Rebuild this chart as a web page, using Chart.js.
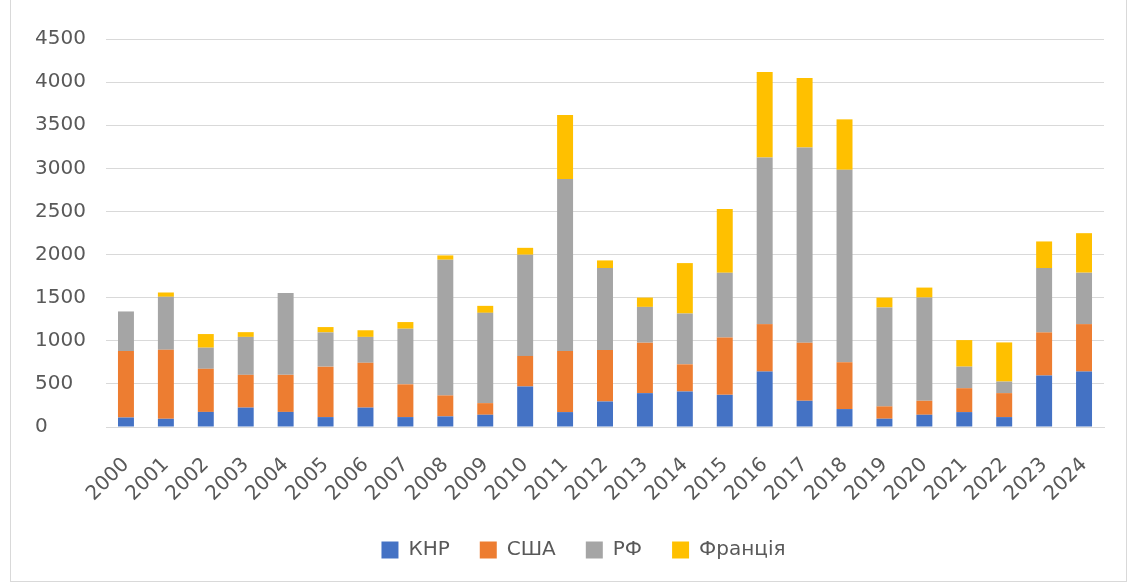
<!DOCTYPE html>
<html>
<head>
<meta charset="utf-8">
<script src="https://cdn.jsdelivr.net/npm/chart.js@4"></script>
<style>
  html, body { margin: 0; padding: 0; background: #fff; }
  #wrap { position: relative; width: 1129px; height: 583px; }
  #frame { position: absolute; left: 10px; top: 0; width: 1115px; height: 581px; border: 1px solid #d9d9d9; border-top: none; }
</style>
</head>
<body>
<div id="wrap">
  <div id="frame"></div>
  <canvas id="chart" width="1129" height="583"></canvas>
</div>
<script>
// years on the x axis
var years = ["2000","2001","2002","2003","2004","2005","2006","2007","2008","2009",
             "2010","2011","2012","2013","2014","2015","2016","2017","2018","2019",
             "2020","2021","2022","2023","2024"];

// values
var knr =     [110,  95, 175, 225, 175, 115, 225, 115, 123, 142, 470, 173, 296, 393, 412, 373, 643, 304, 208,  96, 142, 173, 115, 597, 643];
var ssha =    [770, 800, 500, 380, 430, 585, 520, 380, 243, 135, 354, 708, 597, 585, 315, 666, 550, 674, 543, 143, 162, 277, 278, 500, 550];
var rf =      [460, 615, 245, 440, 950, 397, 300, 645,1574,1047,1174,1994, 951, 415, 589, 751,1932,2263,2232,1147,1197, 250, 134, 747, 597];
var francia = [  0,  50, 158,  55,   0,  62,  77,  77,  50,  81,  80, 743,  88, 108, 585, 739, 993, 808, 585, 115, 116, 308, 454, 308, 458];

var yTicks = [0, 500, 1000, 1500, 2000, 2500, 3000, 3500, 4000, 4500];

Chart.defaults.font.family = "'DejaVu Sans', sans-serif";
Chart.defaults.font.size = 20;
Chart.defaults.color = "#595959";

// legend sits a bit right of centre in the original
var legendShift = {
    id: 'legendShift',
    afterLayout: function (chart) {
        chart.legend.left += 14;
        chart.legend.right += 14;
    }
};

var ctx = document.getElementById("chart");

var myChart = new Chart(ctx, {
    type: 'bar',
    data: {
        labels: years,
        datasets: [
            { label: "КНР",     data: knr,     backgroundColor: "#4472C4" },
            { label: "США",     data: ssha,    backgroundColor: "#ED7D31" },
            { label: "РФ",      data: rf,      backgroundColor: "#A5A5A5" },
            { label: "Франція", data: francia, backgroundColor: "#FFC000" }
        ]
    },
    plugins: [legendShift],
    options: {
        responsive: false,
        animation: false,
        layout: { padding: { left: 35, right: 25, top: 39, bottom: 13 } },
        datasets: { bar: { barPercentage: 0.4, categoryPercentage: 1.0 } },
        plugins: {
            tooltip: { enabled: false },
            legend: {
                position: 'bottom',
                maxHeight: 60,
                labels: { boxWidth: 17, boxHeight: 17, padding: 30, font: { size: 20 } }
            }
        },
        scales: {
            x: {
                stacked: true,
                grid: { display: false },
                border: { display: true, color: "#d9d9d9" },
                ticks: { minRotation: 45, maxRotation: 45, padding: 18 },
                afterFit: function (scale) { scale.height = 83; }
            },
            y: {
                stacked: true,
                min: 0,
                max: 4500,
                afterBuildTicks: function (scale) {
                    scale.ticks = yTicks.map(function (v) { return { value: v }; });
                },
                afterFit: function (scale) { scale.width = 71; },
                grid: { color: "#d9d9d9", drawTicks: false },
                border: { display: false },
                ticks: {
                    padding: 14,
                    crossAlign: 'far',
                    callback: function (v) { return String(v); }
                }
            }
        }
    }
});
</script>
</body>
</html>
